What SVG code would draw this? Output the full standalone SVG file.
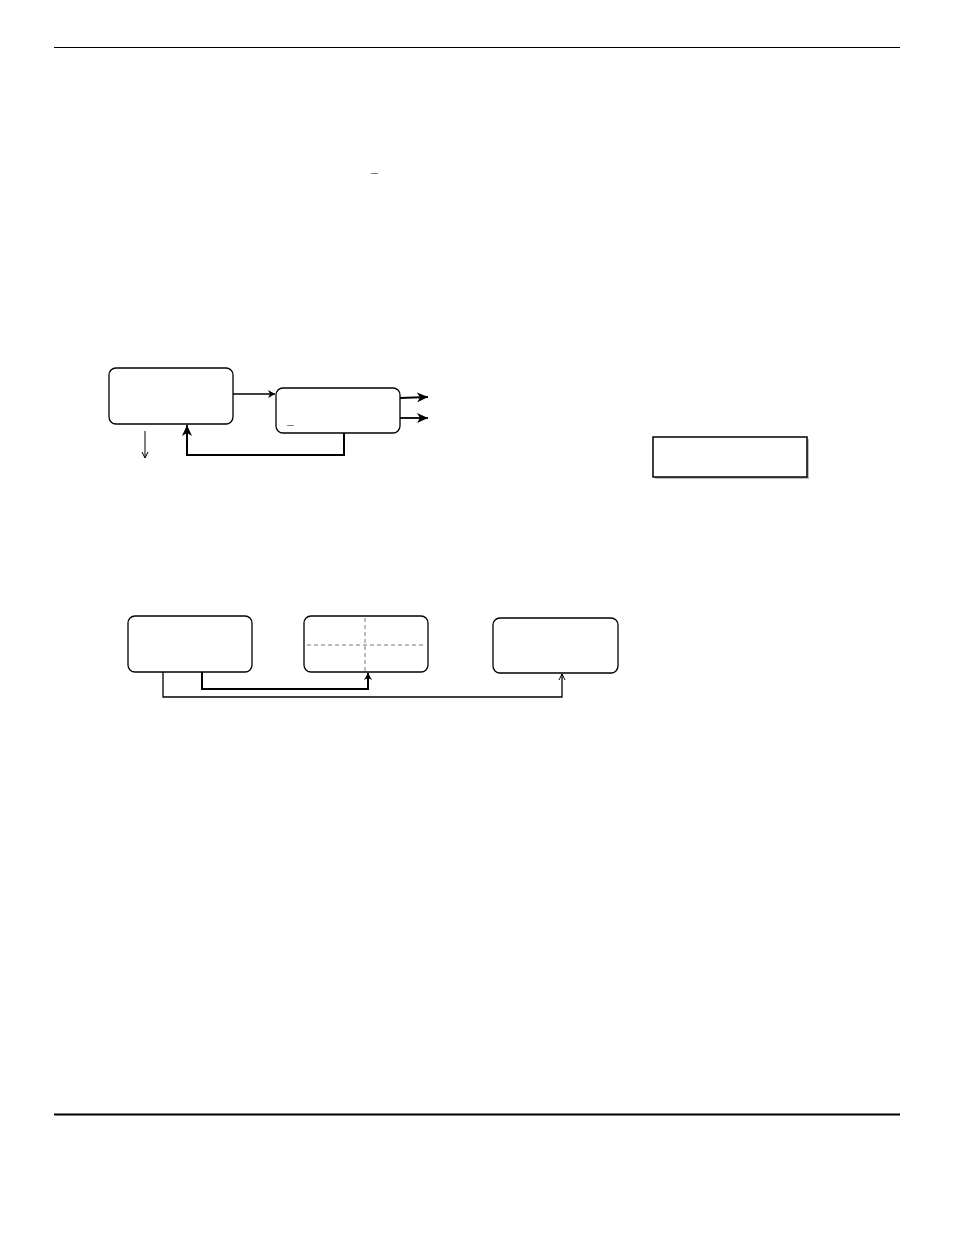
<svg xmlns="http://www.w3.org/2000/svg" width="954" height="1235" viewBox="0 0 954 1235">
<style>
.node{fill:#fff;stroke:#000;stroke-width:1.3}
.c{fill:none;stroke:#000}
.t{font-family:"Liberation Sans",Arial,sans-serif;font-size:12px;font-weight:bold;fill:#000}
.d{stroke:#777;stroke-dasharray:4,3}
</style>
<defs>
<marker id="ao" markerWidth="8" markerHeight="8" refX="7" refY="4" orient="auto" markerUnits="userSpaceOnUse"><path d="M1,1 L7,4 L1,7" fill="none" stroke="#000" stroke-width="1"/></marker>
<marker id="af" markerWidth="12" markerHeight="10" refX="11" refY="5" orient="auto" markerUnits="userSpaceOnUse"><path d="M0,0 L11,5 L0,10 L3,5 Z" fill="#000"/></marker>
<marker id="as" markerWidth="8" markerHeight="8" refX="7" refY="4" orient="auto" markerUnits="userSpaceOnUse"><path d="M0,0 L7,4 L0,8 L2,4 Z" fill="#000"/></marker>
</defs>
<rect width="954" height="1235" fill="#fff"/>
<line x1="54" y1="47.5" x2="900" y2="47.5" stroke="#000" stroke-width="1"/>
<line x1="54" y1="1114.5" x2="900" y2="1114.5" stroke="#000" stroke-width="2"/>
<text class="t" x="371" y="172">_</text>
<g id="n1"><rect class="node" x="109" y="368" width="124" height="56" rx="7"/></g>
<g id="n2"><rect class="node" x="276" y="388" width="124" height="45" rx="7"/><text class="t" x="287" y="424">_</text></g>
<g id="n3"><rect x="655" y="439" width="154" height="40" fill="#bbb"/><rect x="653" y="437" width="154" height="40" fill="#fff" stroke="#000" stroke-width="1.5"/></g>
<g id="n4"><rect class="node" x="128" y="616" width="124" height="56" rx="7"/></g>
<g id="n5"><rect class="node" x="304" y="616" width="124" height="56" rx="7"/><line class="d" x1="365" y1="618" x2="365" y2="671"/><line class="d" x1="307" y1="645" x2="425" y2="645"/></g>
<g id="n6"><rect class="node" x="493" y="618" width="125" height="55" rx="7"/></g>
<g id="connectors">
<path class="c" d="M233,394 L275,394" stroke-width="1.3" marker-end="url(#as)"/>
<path class="c" d="M400,398 L428,397" stroke-width="1.8" marker-end="url(#af)"/>
<path class="c" d="M400,418 L428,418" stroke-width="1.8" marker-end="url(#af)"/>
<path class="c" d="M344,433 L344,455 L187,455 L187,425" stroke-width="2" marker-end="url(#af)"/>
<path class="c" d="M145,431 L145,458" stroke-width="1" marker-end="url(#ao)"/>
<path class="c" d="M202,672 L202,689 L368,689 L368,673" stroke-width="2" marker-end="url(#as)"/>
<path class="c" d="M163,672 L163,697 L562,697 L562,674" stroke-width="1.3" marker-end="url(#ao)"/>
</g>
</svg>
